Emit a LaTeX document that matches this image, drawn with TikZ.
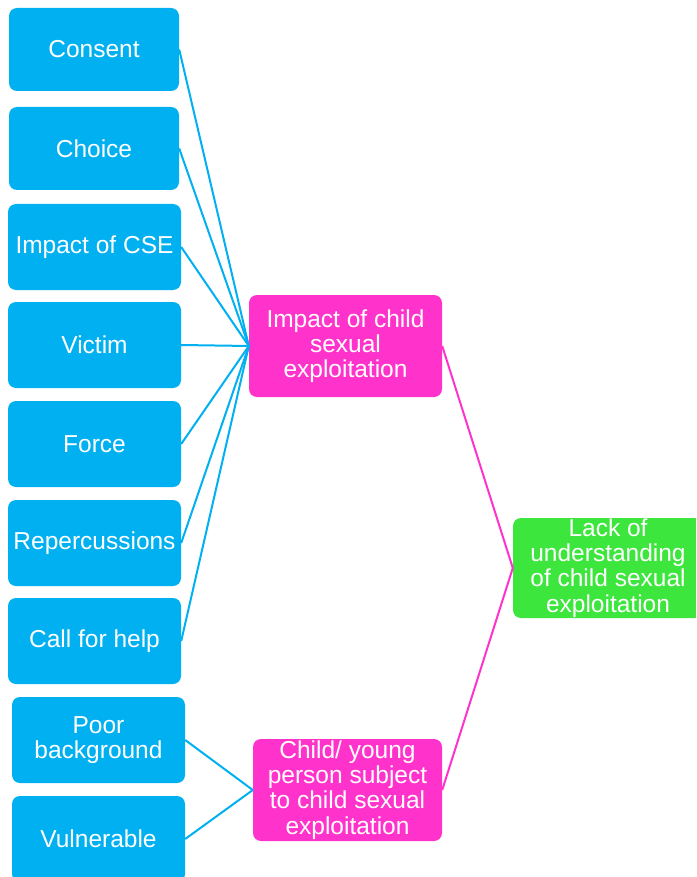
\documentclass[tikz,border=0pt]{standalone}
\usepackage{fontspec}
\setmainfont{Liberation Sans}
\definecolor{cblue}{HTML}{00B0F0}
\definecolor{cmag}{HTML}{FF33CC}
\definecolor{cgreen}{HTML}{3CE63C}
\begin{document}
\begin{tikzpicture}[x=1pt,y=-1pt,
  box/.style={rectangle,rounded corners=8pt,draw=none,text=white,align=center,inner sep=0pt,
    font=\fontsize{24.5}{25.3}\selectfont},
  bluebox/.style={box,fill=cblue},
  magbox/.style={box,fill=cmag},
  greenbox/.style={box,fill=cgreen},
  bline/.style={draw=cblue,line width=2pt},
  mline/.style={draw=cmag,line width=2pt}]
\useasboundingbox (0,0) rectangle (696,877);
\begin{scope}
\clip (0,0) rectangle (696,877);
\node[bluebox,minimum width=170,minimum height=83] (consent) at (94,49.5) {Consent};
\node[bluebox,minimum width=170,minimum height=83] (choice) at (94,148.5) {Choice};
\node[bluebox,minimum width=173,minimum height=86] (impact) at (94.5,247) {Impact of CSE};
\node[bluebox,minimum width=173,minimum height=86] (victim) at (94.5,345) {Victim};
\node[bluebox,minimum width=173,minimum height=86] (force) at (94.5,444) {Force};
\node[bluebox,minimum width=173,minimum height=86] (rep) at (94.5,543) {Repercussions};
\node[bluebox,minimum width=173,minimum height=86] (call) at (94.5,641) {Call for help};
\node[bluebox,minimum width=173,minimum height=86] (poor) at (98.5,740) {Poor\\background};
\node[bluebox,minimum width=173,minimum height=86] (vuln) at (98.5,839) {Vulnerable};
\node[magbox,minimum width=193,minimum height=102] (m1) at (345.5,346) {Impact of child\\sexual\\exploitation};
\node[magbox,minimum width=189,minimum height=102] (m2) at (347.5,790) {Child/ young\\person subject\\to child sexual\\exploitation};
\node[greenbox,minimum width=190,minimum height=100] (g) at (608,568) {Lack of\\understanding\\of child sexual\\exploitation};
\foreach \n in {consent,choice,impact,victim,force,rep,call}
  \draw[bline] (\n.east) -- (m1.west);
\foreach \n in {poor,vuln}
  \draw[bline] (\n.east) -- (m2.west);
\draw[mline] (m1.east) -- (g.west);
\draw[mline] (m2.east) -- (g.west);
\end{scope}
\end{tikzpicture}
\end{document}
